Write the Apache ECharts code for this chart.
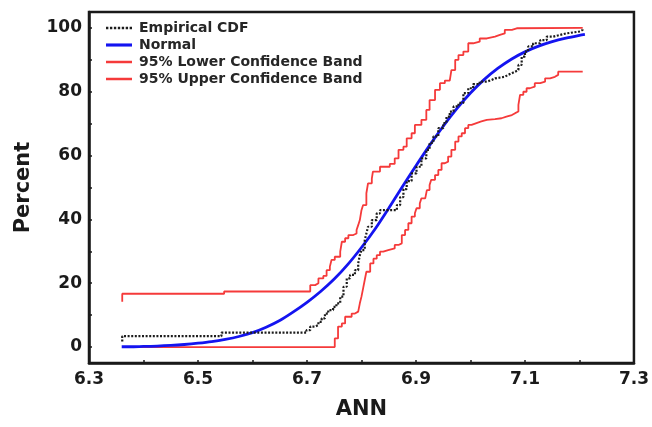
<!DOCTYPE html>
<html>
<head>
<meta charset="utf-8">
<script src="https://cdn.jsdelivr.net/npm/echarts@6/dist/echarts.min.js"></script>
<style>
html,body{margin:0;padding:0;background:#fff;}
#chart{width:652px;height:427px;}
</style>
</head>
<body>
<div id="chart"></div>
<script>
// Empirical CDF (step points: x of jump, level after jump, %)
var ecdfX = [6.361,6.361,6.543,6.699,6.706,6.715,6.721,6.727,6.733,6.739,6.748,6.754,6.761,6.767,6.773,6.779,6.788,6.794,6.797,6.800,6.806,6.809,6.812,6.819,6.828,6.834,6.865,6.871,6.877,6.883,6.892,6.901,6.910,6.919,6.925,6.932,6.941,6.950,6.956,6.962,6.969,6.978,6.987,6.996,7.005,7.017,7.030,7.039,7.045,7.063,7.069,7.076,7.082,7.088,7.094,7.100,7.106,7.115,7.128,7.140,7.152,7.164,7.176,7.201,7.206];
var ecdfY = [1.7,3.4,4.5,5.3,6.4,6.9,7.9,9.0,10.5,11.6,12.6,13.7,15.8,18.9,21.5,22.6,24.1,26.2,28.8,30.4,33.5,35.6,37.7,39.8,41.9,42.9,44.5,47.0,49.5,52.0,54.4,56.5,59.1,61.8,64.0,66.0,68.6,70.2,72.2,73.8,75.4,76.5,79.6,81.1,82.4,83.2,83.7,84.2,84.7,85.3,85.8,86.3,86.8,88.4,91.0,92.6,94.2,95.2,96.2,97.3,97.8,98.3,98.9,99.4,99.9];

// Fitted normal curve (%)
var normX = [6.36,6.375,6.40,6.425,6.45,6.475,6.50,6.525,6.55,6.575,6.60,6.625,6.65,6.675,6.70,6.725,6.75,6.775,6.80,6.825,6.85,6.875,6.90,6.925,6.95,6.975,7.00,7.025,7.05,7.075,7.10,7.125,7.15,7.175,7.20,7.21];
var normY = [0.1,0.1,0.2,0.3,0.5,0.8,1.2,1.7,2.4,3.3,4.5,6.2,8.3,11.0,14.0,17.4,21.3,25.9,31.2,37.0,43.5,50.2,56.8,63.2,69.2,74.7,79.6,83.8,87.3,90.2,92.5,94.3,95.7,96.8,97.7,98.0];

// 95% lower confidence band (%)
var lowX = [6.361,6.751,6.757,6.764,6.770,6.782,6.788,6.794,6.797,6.800,6.803,6.806,6.809,6.816,6.822,6.828,6.834,6.840,6.849,6.861,6.868,6.874,6.880,6.886,6.892,6.898,6.901,6.907,6.910,6.917,6.920,6.925,6.928,6.935,6.941,6.947,6.953,6.959,6.965,6.972,6.978,6.984,6.990,6.996,7.002,7.011,7.020,7.030,7.045,7.057,7.066,7.076,7.082,7.088,7.091,7.097,7.103,7.109,7.118,7.128,7.137,7.146,7.155,7.161,7.206];
var lowY = [0,2.7,6.4,7.4,9.5,10.5,11.1,11.6,13.7,15.8,18.4,21.0,23.6,26.2,27.7,28.8,29.9,30.4,30.9,32.0,32.5,35.1,36.7,38.8,40.9,41.9,43.5,45.0,46.6,47.1,49.2,50.8,52.4,53.9,55.5,57.6,58.1,59.7,61.8,64.4,66.0,67.0,68.6,69.6,70.2,70.7,71.2,71.4,71.7,72.2,72.7,73.3,73.8,75.9,79.0,80.0,81.1,81.6,82.7,83.2,84.2,84.7,85.3,86.3,86.3];

// 95% upper confidence band (%)
var upX = [6.361,6.361,6.548,6.706,6.715,6.721,6.730,6.736,6.742,6.745,6.751,6.761,6.764,6.770,6.776,6.785,6.791,6.794,6.797,6.800,6.803,6.809,6.812,6.819,6.821,6.834,6.852,6.861,6.868,6.877,6.883,6.892,6.898,6.910,6.919,6.925,6.935,6.944,6.953,6.962,6.965,6.972,6.978,6.987,6.996,7.005,7.017,7.030,7.045,7.054,7.063,7.076,7.085,7.206];
var upY = [14.2,16.7,17.4,19.4,20.0,21.5,22.3,24.1,25.2,27.3,28.3,29.9,33.0,34.1,35.1,35.6,36.7,38.2,39.8,42.9,44.5,48.2,51.3,52.8,55.0,56.5,57.4,59.1,61.8,62.8,65.4,67.0,69.6,71.2,74.3,77.4,80.6,82.7,83.5,83.7,86.8,90.0,91.5,92.6,95.2,95.7,96.7,97.3,97.8,98.3,99.4,99.9,100,100];

var seriesNames = ['Empirical CDF','Normal','95% Lower Confidence Band','95% Upper Confidence Band'];
var xTickLabels = ['6.3','6.5','6.7','6.9','7.1','7.3'];
var yTickLabels = ['0','20','40','60','80','100'];

function pairs(xs, ys){ return xs.map(function(x,i){ return [x, ys[i]]; }); }

var FONT = 'DejaVu Sans';
var dotIcon = 'path://M0,0h2.4v2.4h-2.4zM4,0h2.4v2.4h-2.4zM8,0h2.4v2.4h-2.4zM12,0h2.4v2.4h-2.4zM16,0h2.4v2.4h-2.4zM20,0h2.4v2.4h-2.4zM24,0h2.4v2.4h-2.4z';
var solidBlue = 'path://M0,0h25v3h-25z';
var solidRed = 'path://M0,0h25v2.4h-25z';

var chart = echarts.init(document.getElementById('chart'), null, {renderer:'canvas'});
chart.setOption({
  animation:false,
  backgroundColor:'#fff',
  grid:{left:89,right:18,top:12,bottom:64,show:true,borderColor:'#1a1a1a',borderWidth:2.5,backgroundColor:'transparent'},
  legend:{
    data:[
      {name:seriesNames[0], icon:dotIcon},
      {name:seriesNames[1], icon:solidBlue},
      {name:seriesNames[2], icon:solidRed},
      {name:seriesNames[3], icon:solidRed}
    ],
    orient:'vertical', left:106, top:21, padding:0,
    itemWidth:26, itemHeight:12, itemGap:3,
    textStyle:{fontFamily:FONT,fontWeight:'bold',fontSize:14,color:'#262626',padding:[0,0,0,2]}
  },
  xAxis:{
    type:'value', min:6.3, max:7.3, interval:0.1,
    name:'ANN', nameLocation:'middle', nameGap:36,
    nameTextStyle:{fontFamily:FONT,fontWeight:'bold',fontSize:21,color:'#1a1a1a'},
    axisLine:{show:true,onZero:false,lineStyle:{color:'#1a1a1a',width:2.5}},
    axisTick:{show:true,inside:true,length:3,lineStyle:{color:'#1a1a1a',width:1.5}},
    axisLabel:{margin:8,fontFamily:FONT,fontWeight:'bold',fontSize:17,color:'#1a1a1a',
      formatter:function(v){ var s=v.toFixed(1); return xTickLabels.indexOf(s)>=0 ? s : ''; }},
    splitLine:{show:false}
  },
  yAxis:{
    type:'value', min:-5, max:105, splitNumber:11,
    name:'Percent', nameLocation:'middle', nameGap:55,
    nameTextStyle:{fontFamily:FONT,fontWeight:'bold',fontSize:21,color:'#1a1a1a'},
    axisLine:{show:true,onZero:false,lineStyle:{color:'#1a1a1a',width:2.5}},
    axisTick:{show:true,inside:true,length:3,lineStyle:{color:'#1a1a1a',width:1.5}},
    axisLabel:{margin:7,fontFamily:FONT,fontWeight:'bold',fontSize:17,color:'#1a1a1a',
      formatter:function(v){ var s=String(Math.round(v)); return (Math.abs(v-Math.round(v))<1e-6 && yTickLabels.indexOf(s)>=0) ? s : ''; }},
    splitLine:{show:false}
  },
  series:[
    {name:seriesNames[0], type:'line', data:pairs(ecdfX,ecdfY), step:'end', symbol:'none', z:5,
     lineStyle:{color:'#1c1c1c',width:2.2,type:[2,1.6]}, itemStyle:{color:'#1c1c1c'}},
    {name:seriesNames[1], type:'line', data:pairs(normX,normY), smooth:0.3, symbol:'none', z:4,
     lineStyle:{color:'#1414f0',width:2.8}, itemStyle:{color:'#1414f0'}},
    {name:seriesNames[2], type:'line', data:pairs(lowX,lowY), step:'end', symbol:'none', z:3,
     lineStyle:{color:'#f53a3a',width:1.8}, itemStyle:{color:'#f53a3a'}},
    {name:seriesNames[3], type:'line', data:pairs(upX,upY), step:'end', symbol:'none', z:3,
     lineStyle:{color:'#f53a3a',width:1.8}, itemStyle:{color:'#f53a3a'}}
  ]
});
</script>
</body>
</html>
